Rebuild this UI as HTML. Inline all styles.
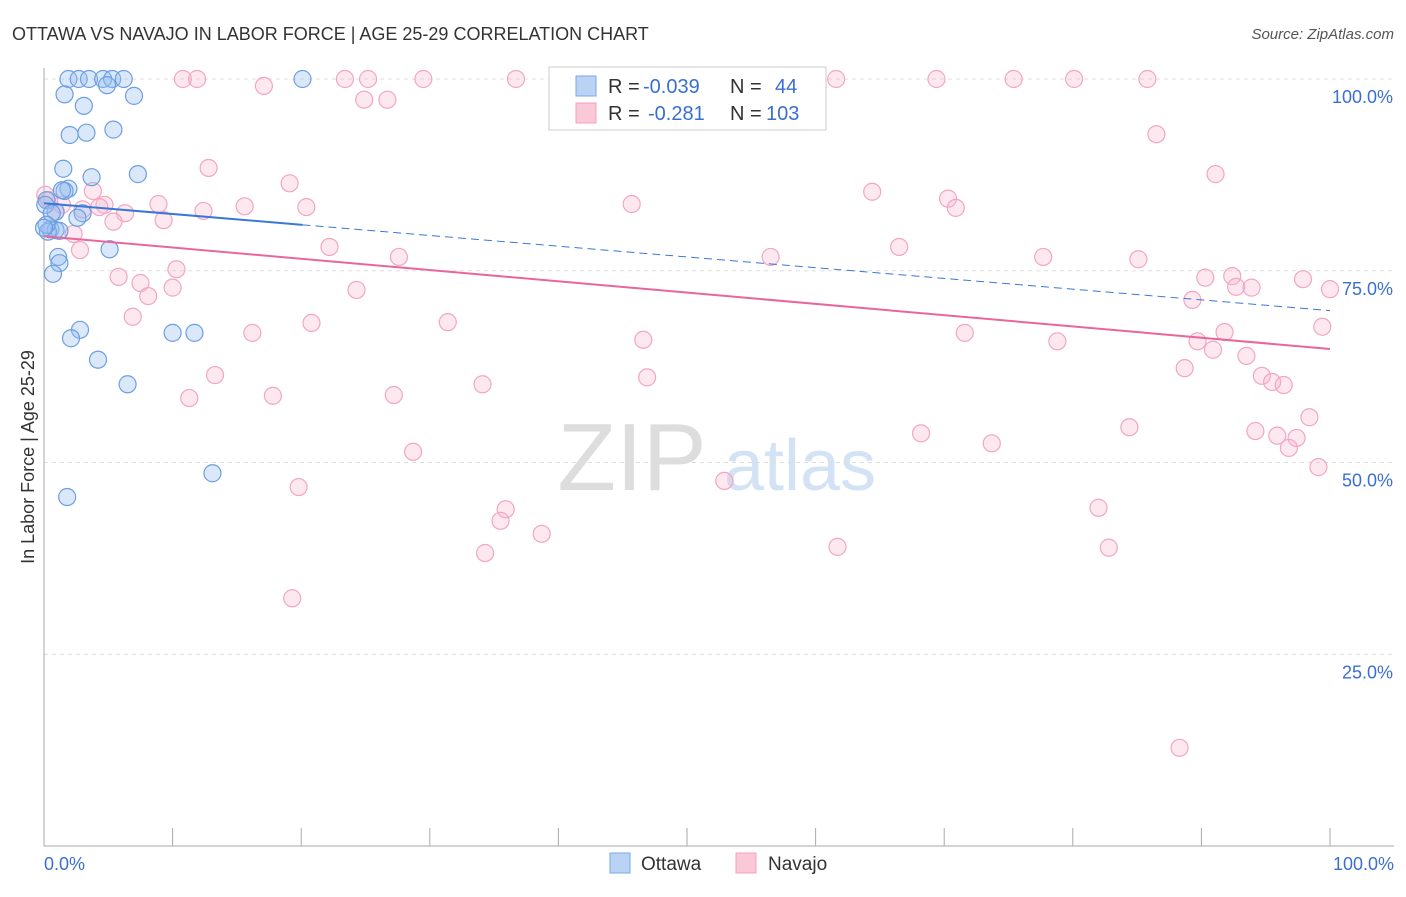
<!DOCTYPE html>
<html><head><meta charset="utf-8"><style>
body{margin:0;background:#fff;font-family:"Liberation Sans",sans-serif}
svg text{font-family:"Liberation Sans",sans-serif}
</style></head><body>
<svg id="c" width="1406" height="892" viewBox="0 0 1406 892">
<text x="12" y="40" font-size="18" fill="#333">OTTAWA VS NAVAJO IN LABOR FORCE | AGE 25-29 CORRELATION CHART</text>
<text x="1394" y="39" font-size="15" fill="#555" text-anchor="end" font-style="italic">Source: ZipAtlas.com</text>
<text transform="translate(34,457) rotate(-90)" font-size="18" fill="#333" text-anchor="middle">In Labor Force | Age 25-29</text>
<g>
<text x="632" y="490" font-size="96" fill="#ddd" font-family="Liberation Serif" text-anchor="middle">ZIP</text>
<text x="800" y="490" font-size="72" fill="#d3e3f5" text-anchor="middle">atlas</text>
</g>
<g id="grid"></g>
<g id="axes"></g>
<g id="marks"></g>
<g>
<rect x="549" y="67" width="277" height="63" fill="#fff" stroke="#ccc"/>
<rect x="576" y="76" width="20" height="20" fill="#b9d3f5" stroke="#7aaae6"/>
<text x="608" y="93" font-size="20" fill="#333">R =</text>
<text x="643" y="93" font-size="20" fill="#3a6fd0">-0.039</text>
<text x="730" y="93" font-size="20" fill="#333">N =</text>
<text x="775" y="93" font-size="20" fill="#3a6fd0">44</text>
<rect x="576" y="103" width="20" height="20" fill="#fbc8d8" stroke="#f0a0bc"/>
<text x="608" y="120" font-size="20" fill="#333">R =</text>
<text x="648" y="120" font-size="20" fill="#3a6fd0">-0.281</text>
<text x="730" y="120" font-size="20" fill="#333">N =</text>
<text x="766" y="120" font-size="20" fill="#3a6fd0">103</text>
</g>
<g>
<rect x="610" y="853" width="20" height="20" fill="#b9d3f5" stroke="#7aaae6"/>
<text x="641" y="870" font-size="19" fill="#333">Ottawa</text>
<rect x="736" y="853" width="20" height="20" fill="#fbc8d8" stroke="#f0a0bc"/>
<text x="768" y="870" font-size="19" fill="#333">Navajo</text>
</g>
</svg>
<script>
const yTicks=[25,50,75,100];
const yTickLabels=["25.0%","50.0%","75.0%","100.0%"];
const xTickLabels=["0.0%","100.0%"];
const ottawaX=[1.9,2.7,3.5,4.6,5.3,6.2,20.1,4.9,1.6,7.0,3.1,2.0,3.3,5.4,1.5,3.7,7.3,1.9,1.6,0.2,0.9,3.0,2.6,0.5,0.9,1.2,0.3,5.1,1.1,1.2,0.7,2.8,2.1,10.0,11.7,4.2,6.5,13.1,1.8,0.1,0.6,0.2,0.0,1.4];
const ottawaY=[100,100,100,100,100,100,100,99.2,98.0,97.8,96.5,92.7,93.0,93.4,88.3,87.2,87.6,85.7,85.4,84.2,82.7,82.5,81.9,80.4,80.3,80.2,80.1,77.8,76.8,76.0,74.6,67.3,66.2,66.9,66.9,63.4,60.2,48.6,45.5,83.6,82.5,81.0,80.6,85.5];
const navajoX=[10.8,11.9,23.4,25.2,29.5,36.7,40.4,58.1,61.6,69.4,75.4,80.1,85.8,17.1,24.9,26.7,86.5,12.8,91.1,19.1,3.8,64.4,70.3,70.9,45.7,8.9,15.6,20.4,12.4,4.7,4.3,6.3,9.3,5.4,1.4,0.9,0.1,0.4,3.0,2.3,2.8,22.2,66.5,27.6,56.5,77.7,85.1,10.3,5.8,7.5,90.3,92.4,97.9,100,10.0,24.3,92.7,93.9,8.1,89.3,6.9,20.8,31.4,16.2,71.6,91.8,99.4,46.6,78.8,89.7,90.9,93.5,88.7,13.3,46.9,94.7,95.5,96.4,34.1,11.3,17.8,27.2,98.4,68.2,84.4,94.2,95.9,97.4,73.7,28.7,96.8,99.1,52.9,19.8,35.9,35.5,82.0,38.7,34.3,61.7,82.8,19.3,88.3];
const navajoY=[100,100,100,100,100,100,100,100,100,100,100,100,100,99.1,97.3,97.3,92.8,88.4,87.6,86.4,85.4,85.3,84.4,83.2,83.7,83.7,83.4,83.3,82.8,83.6,83.3,82.5,81.6,81.4,83.6,82.7,84.9,84.2,83.0,79.8,77.7,78.1,78.1,76.8,76.8,76.8,76.5,75.2,74.2,73.4,74.1,74.3,73.9,72.6,72.8,72.5,72.9,72.8,71.7,71.2,69.0,68.2,68.3,66.9,66.9,67.0,67.7,66.0,65.8,65.8,64.7,63.9,62.3,61.4,61.1,61.3,60.5,60.1,60.2,58.4,58.7,58.8,55.9,53.8,54.6,54.1,53.5,53.2,52.5,51.4,51.9,49.4,47.6,46.8,43.9,42.4,44.1,40.7,38.2,39.0,38.9,32.3,12.8];
const ottawaTrend=[83.8,69.8];
const navajoTrend=[79.5,64.8];
const NS="http://www.w3.org/2000/svg";
const X0=44,X1=1330,Y0=846,Y100=79;
const sx=v=>X0+(X1-X0)*v/100;
const sy=v=>Y0-(Y0-Y100)*v/100;
function mk(t,a,p){const e=document.createElementNS(NS,t);for(const k in a)e.setAttribute(k,a[k]);p.appendChild(e);return e;}
const grid=document.getElementById('grid'),axes=document.getElementById('axes'),marks=document.getElementById('marks');
yTicks.forEach((t,i)=>{
 const l=mk('line',{x1:X0,x2:1394,y1:sy(t),y2:sy(t),stroke:'#ddd','stroke-dasharray':'4,4'},grid);
 
 
 const tx=mk('text',{x:1393,y:sy(t)+24,'font-size':18,fill:'#3a6fd0','text-anchor':'end'},axes);
 tx.textContent=yTickLabels[i];
 
 
});
const ax=mk('line',{x1:X0,x2:X0,y1:68,y2:Y0,stroke:'#aaa'},axes);


const bx=mk('line',{x1:X0,x2:1394,y1:Y0,y2:Y0,stroke:'#aaa'},axes);


for(let i=0;i<=10;i++){
 const t=mk('line',{x1:sx(i*10),x2:sx(i*10),y1:Y0,y2:828,stroke:'#aaa'},axes);
 
 
}
[[0,'start',X0],[1,'end',1394]].forEach(([i,a,x])=>{
 const tx=mk('text',{x:x,y:870,'font-size':18,fill:'#3a6fd0','text-anchor':a},axes);
 tx.textContent=xTickLabels[i];
 
 
});
navajoX.forEach((v,i)=>{
 const c=mk('circle',{cx:sx(v),cy:sy(navajoY[i]),r:8.5,fill:'rgba(248,180,205,0.3)',stroke:'#f2a6c2','stroke-width':1.2},marks);
 
 
});
ottawaX.forEach((v,i)=>{
 const c=mk('circle',{cx:sx(v),cy:sy(ottawaY[i]),r:8.5,fill:'rgba(150,190,240,0.35)',stroke:'#6d9fe0','stroke-width':1.2},marks);
 
 
});
const ty=(tr,x)=>tr[0]+(tr[1]-tr[0])*x/100;
const maxO=Math.max(...ottawaX);
const l1=mk('line',{x1:sx(0),y1:sy(ty(ottawaTrend,0)),x2:sx(maxO),y2:sy(ty(ottawaTrend,maxO)),stroke:'#3a78d8','stroke-width':2},marks);


const l2=mk('line',{x1:sx(maxO),y1:sy(ty(ottawaTrend,maxO)),x2:sx(100),y2:sy(ty(ottawaTrend,100)),stroke:'#3a78d8','stroke-width':1,'stroke-dasharray':'8,5'},marks);


const l3=mk('line',{x1:sx(0),y1:sy(ty(navajoTrend,0)),x2:sx(100),y2:sy(ty(navajoTrend,100)),stroke:'#e8679a','stroke-width':2},marks);


</script>
</body></html>
